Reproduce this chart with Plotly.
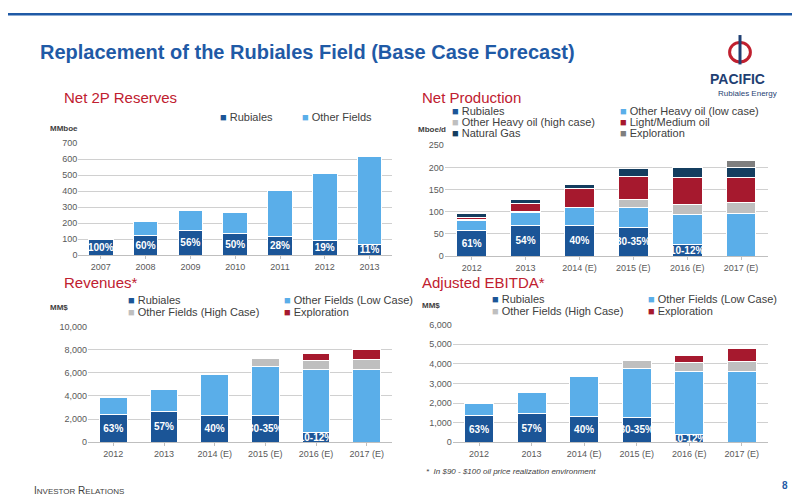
import plotly.graph_objects as go

# Net 2P reserves (MMboe)
res_years = ['2007', '2008', '2009', '2010', '2011', '2012', '2013']
res_rubiales = [97, 122, 157, 135, 117, 93, 68]
res_other = [0, 88, 123, 133, 290, 420, 550]
res_pct = ['100%', '60%', '56%', '50%', '28%', '19%', '11%']

# Net production (Mboe/d)
fc_years = ['2012', '2013', '2014 (E)', '2015 (E)', '2016 (E)', '2017 (E)']
prod_rubiales = [58, 70, 70, 65, 25, 0]
prod_low = [23, 28, 40, 45, 68, 95]
prod_high = [2, 2, 0, 17, 24, 25]
prod_light = [4, 18, 42, 53, 61, 58]
prod_gas = [9, 10, 9, 17, 22, 21]
prod_expl = [0, 0, 0, 0, 0, 16]
fc_pct = ['61%', '54%', '40%', '30-35%', '10-12%', '']

# Revenues (MM$)
rev_rubiales = [2400, 2650, 2350, 2300, 850, 0]
rev_low = [1450, 1950, 3550, 4250, 5400, 6250]
rev_high = [0, 0, 0, 650, 800, 900]
rev_expl = [0, 0, 0, 0, 650, 900]
rev_pct = ['63%', '57%', '40%', '30-35%', '10-12%', '']

# Adjusted EBITDA (MM$)
eb_rubiales = [1350, 1450, 1330, 1270, 420, 0]
eb_low = [650, 1100, 2020, 2500, 3180, 3600]
eb_high = [0, 0, 0, 380, 450, 500]
eb_expl = [0, 0, 0, 0, 400, 700]

DARK = '#1b5597'
LIGHT = '#5aaee9'
GREY = '#bfbfbf'
RED = '#a6192e'
NAVY = '#143d5f'
DGREY = '#7f7f7f'
RED_T = '#c0202f'
BLUE_T = '#1f5aa6'

fig = go.Figure()


def add_bar(x, y, name, color, xa, ya, text=None):
    fig.add_trace(go.Bar(
        x=x, y=y, name=name, marker=dict(color=color, line=dict(color='white', width=1)),
        xaxis=xa, yaxis=ya, width=0.55, showlegend=False,
        text=text, textposition='inside' if text else None, insidetextanchor='middle',
        textangle=0, constraintext='none',
        textfont=dict(color='white', size=10, family='Arial', weight='bold'),
        hoverinfo='y'))


add_bar(res_years, res_rubiales, 'Rubiales', DARK, 'x', 'y', res_pct)
add_bar(res_years, res_other, 'Other Fields', LIGHT, 'x', 'y')

add_bar(fc_years, prod_rubiales, 'Rubiales', DARK, 'x2', 'y2', fc_pct)
add_bar(fc_years, prod_low, 'Other Heavy oil (low case)', LIGHT, 'x2', 'y2')
add_bar(fc_years, prod_high, 'Other Heavy oil (high case)', GREY, 'x2', 'y2')
add_bar(fc_years, prod_light, 'Light/Medium oil', RED, 'x2', 'y2')
add_bar(fc_years, prod_gas, 'Natural Gas', NAVY, 'x2', 'y2')
add_bar(fc_years, prod_expl, 'Exploration', DGREY, 'x2', 'y2')

add_bar(fc_years, rev_rubiales, 'Rubiales', DARK, 'x3', 'y3', rev_pct)
add_bar(fc_years, rev_low, 'Other Fields (Low Case)', LIGHT, 'x3', 'y3')
add_bar(fc_years, rev_high, 'Other Fields (High Case)', GREY, 'x3', 'y3')
add_bar(fc_years, rev_expl, 'Exploration', RED, 'x3', 'y3')

add_bar(fc_years, eb_rubiales, 'Rubiales', DARK, 'x4', 'y4', rev_pct)
add_bar(fc_years, eb_low, 'Other Fields (Low Case)', LIGHT, 'x4', 'y4')
add_bar(fc_years, eb_high, 'Other Fields (High Case)', GREY, 'x4', 'y4')
add_bar(fc_years, eb_expl, 'Exploration', RED, 'x4', 'y4')

tick = dict(size=9, color='#595959', family='Arial')
xcommon = dict(showgrid=False, showline=True, linecolor='#bfbfbf', ticks='outside',
               tickcolor='#bfbfbf', ticklen=3, tickfont=tick)
ycommon = dict(showgrid=True, gridcolor='#d0d0d0', zeroline=False, showline=False, tickfont=tick)

fig.update_layout(
    width=800, height=500, barmode='stack',
    paper_bgcolor='white', plot_bgcolor='white',
    margin=dict(l=0, r=0, t=0, b=0),
    uniformtext=dict(minsize=9, mode='show'),
    xaxis=dict(domain=[0.088, 0.48], anchor='y', **xcommon),
    yaxis=dict(domain=[0.506, 0.734], range=[0, 700], dtick=100, anchor='x', **ycommon),
    xaxis2=dict(domain=[0.546, 0.95], anchor='y2', **xcommon),
    yaxis2=dict(domain=[0.504, 0.73], range=[0, 250], dtick=50, anchor='x2', **ycommon),
    xaxis3=dict(domain=[0.1, 0.48], anchor='y3', **xcommon),
    yaxis3=dict(domain=[0.124, 0.36], range=[0, 10000], dtick=2000, tickformat=',',
                anchor='x3', **ycommon),
    xaxis4=dict(domain=[0.556, 0.95], anchor='y4', **xcommon),
    yaxis4=dict(domain=[0.124, 0.364], range=[0, 6000], dtick=1000, tickformat=',',
                anchor='x4', **ycommon),
)


def legend_item(x, y, name, color):
    fig.add_annotation(x=x, y=y, xref='paper', yref='paper', showarrow=False,
                       xanchor='left', yanchor='middle',
                       text='<span style="color:%s;font-size:11px">■</span> %s' % (color, name),
                       font=dict(size=11, color='#404040', family='Arial'))


# legends (two columns per chart)
legend_item(0.262, 0.788, 'Rubiales', DARK)
legend_item(0.365, 0.788, 'Other Fields', LIGHT)
lg = [('Rubiales', DARK), ('Other Heavy oil (low case)', LIGHT), ('Other Heavy oil (high case)', GREY),
      ('Light/Medium oil', RED), ('Natural Gas', NAVY), ('Exploration', DGREY)]
for i, (n, c) in enumerate(lg):
    legend_item(0.553 + 0.21 * (i % 2), 0.8 - 0.0225 * (i // 2), n, c)
lg2 = [('Rubiales', DARK), ('Other Fields (Low Case)', LIGHT),
       ('Other Fields (High Case)', GREY), ('Exploration', RED)]
for i, (n, c) in enumerate(lg2):
    legend_item(0.147 + 0.195 * (i % 2), 0.414 - 0.024 * (i // 2), n, c)
    legend_item(0.603 + 0.195 * (i % 2), 0.416 - 0.024 * (i // 2), n, c)

ann = []
ann.append(dict(x=0.038, y=0.92, text='<b>Replacement of the Rubiales Field (Base Case Forecast)</b>',
                font=dict(size=20, color=BLUE_T, family='Arial')))
for x, y, t in [(0.068, 0.828, 'Net 2P Reserves'), (0.515, 0.828, 'Net Production'),
                (0.068, 0.45, 'Revenues*'), (0.515, 0.45, 'Adjusted EBITDA*')]:
    ann.append(dict(x=x, y=y, text=t, font=dict(size=15, color=RED_T, family='Arial')))
for x, y, t in [(0.05, 0.764, 'MMboe'), (0.51, 0.762, 'Mboe/d'),
                (0.05, 0.4, 'MM$'), (0.515, 0.404, 'MM$')]:
    ann.append(dict(x=x, y=y, text='<b>' + t + '</b>', font=dict(size=8, color='#404040', family='Arial')))
ann.append(dict(x=0.52, y=0.065, text='<i>*  In $90 - $100 oil price realization environment</i>',
                font=dict(size=8, color='#404040', family='Arial')))
ann.append(dict(x=0.03, y=0.025, text='I<span style="font-size:8px">NVESTOR</span> R<span style="font-size:8px">ELATIONS</span>',
                font=dict(size=10, color='#404040', family='Arial')))
ann.append(dict(x=0.965, y=0.035, text='<b>8</b>', font=dict(size=10, color=BLUE_T, family='Arial')))
ann.append(dict(x=0.875, y=0.865, text='<b>PACIFIC</b>', font=dict(size=14, color='#1f3f73', family='Arial')))
ann.append(dict(x=0.885, y=0.835, text='Rubiales Energy', font=dict(size=8, color='#1f3f73', family='Arial')))
for a in ann:
    a.update(xref='paper', yref='paper', showarrow=False, xanchor='left', yanchor='middle')
    fig.add_annotation(**a)

# logo mark and header bar
fig.add_shape(type='rect', xref='paper', yref='paper', x0=0, x1=1, y0=0.995, y1=1,
              fillcolor='#1f5aa6', line_width=0)
fig.add_shape(type='circle', xref='paper', yref='paper', x0=0.902, x1=0.928, y0=0.9, y1=0.94,
              fillcolor='rgba(0,0,0,0)', line=dict(color=RED_T, width=3))
fig.add_shape(type='line', xref='paper', yref='paper', x0=0.915, x1=0.915, y0=0.955, y1=0.895,
              line=dict(color='#1f3f73', width=3))

fig.write_html('out.html')
